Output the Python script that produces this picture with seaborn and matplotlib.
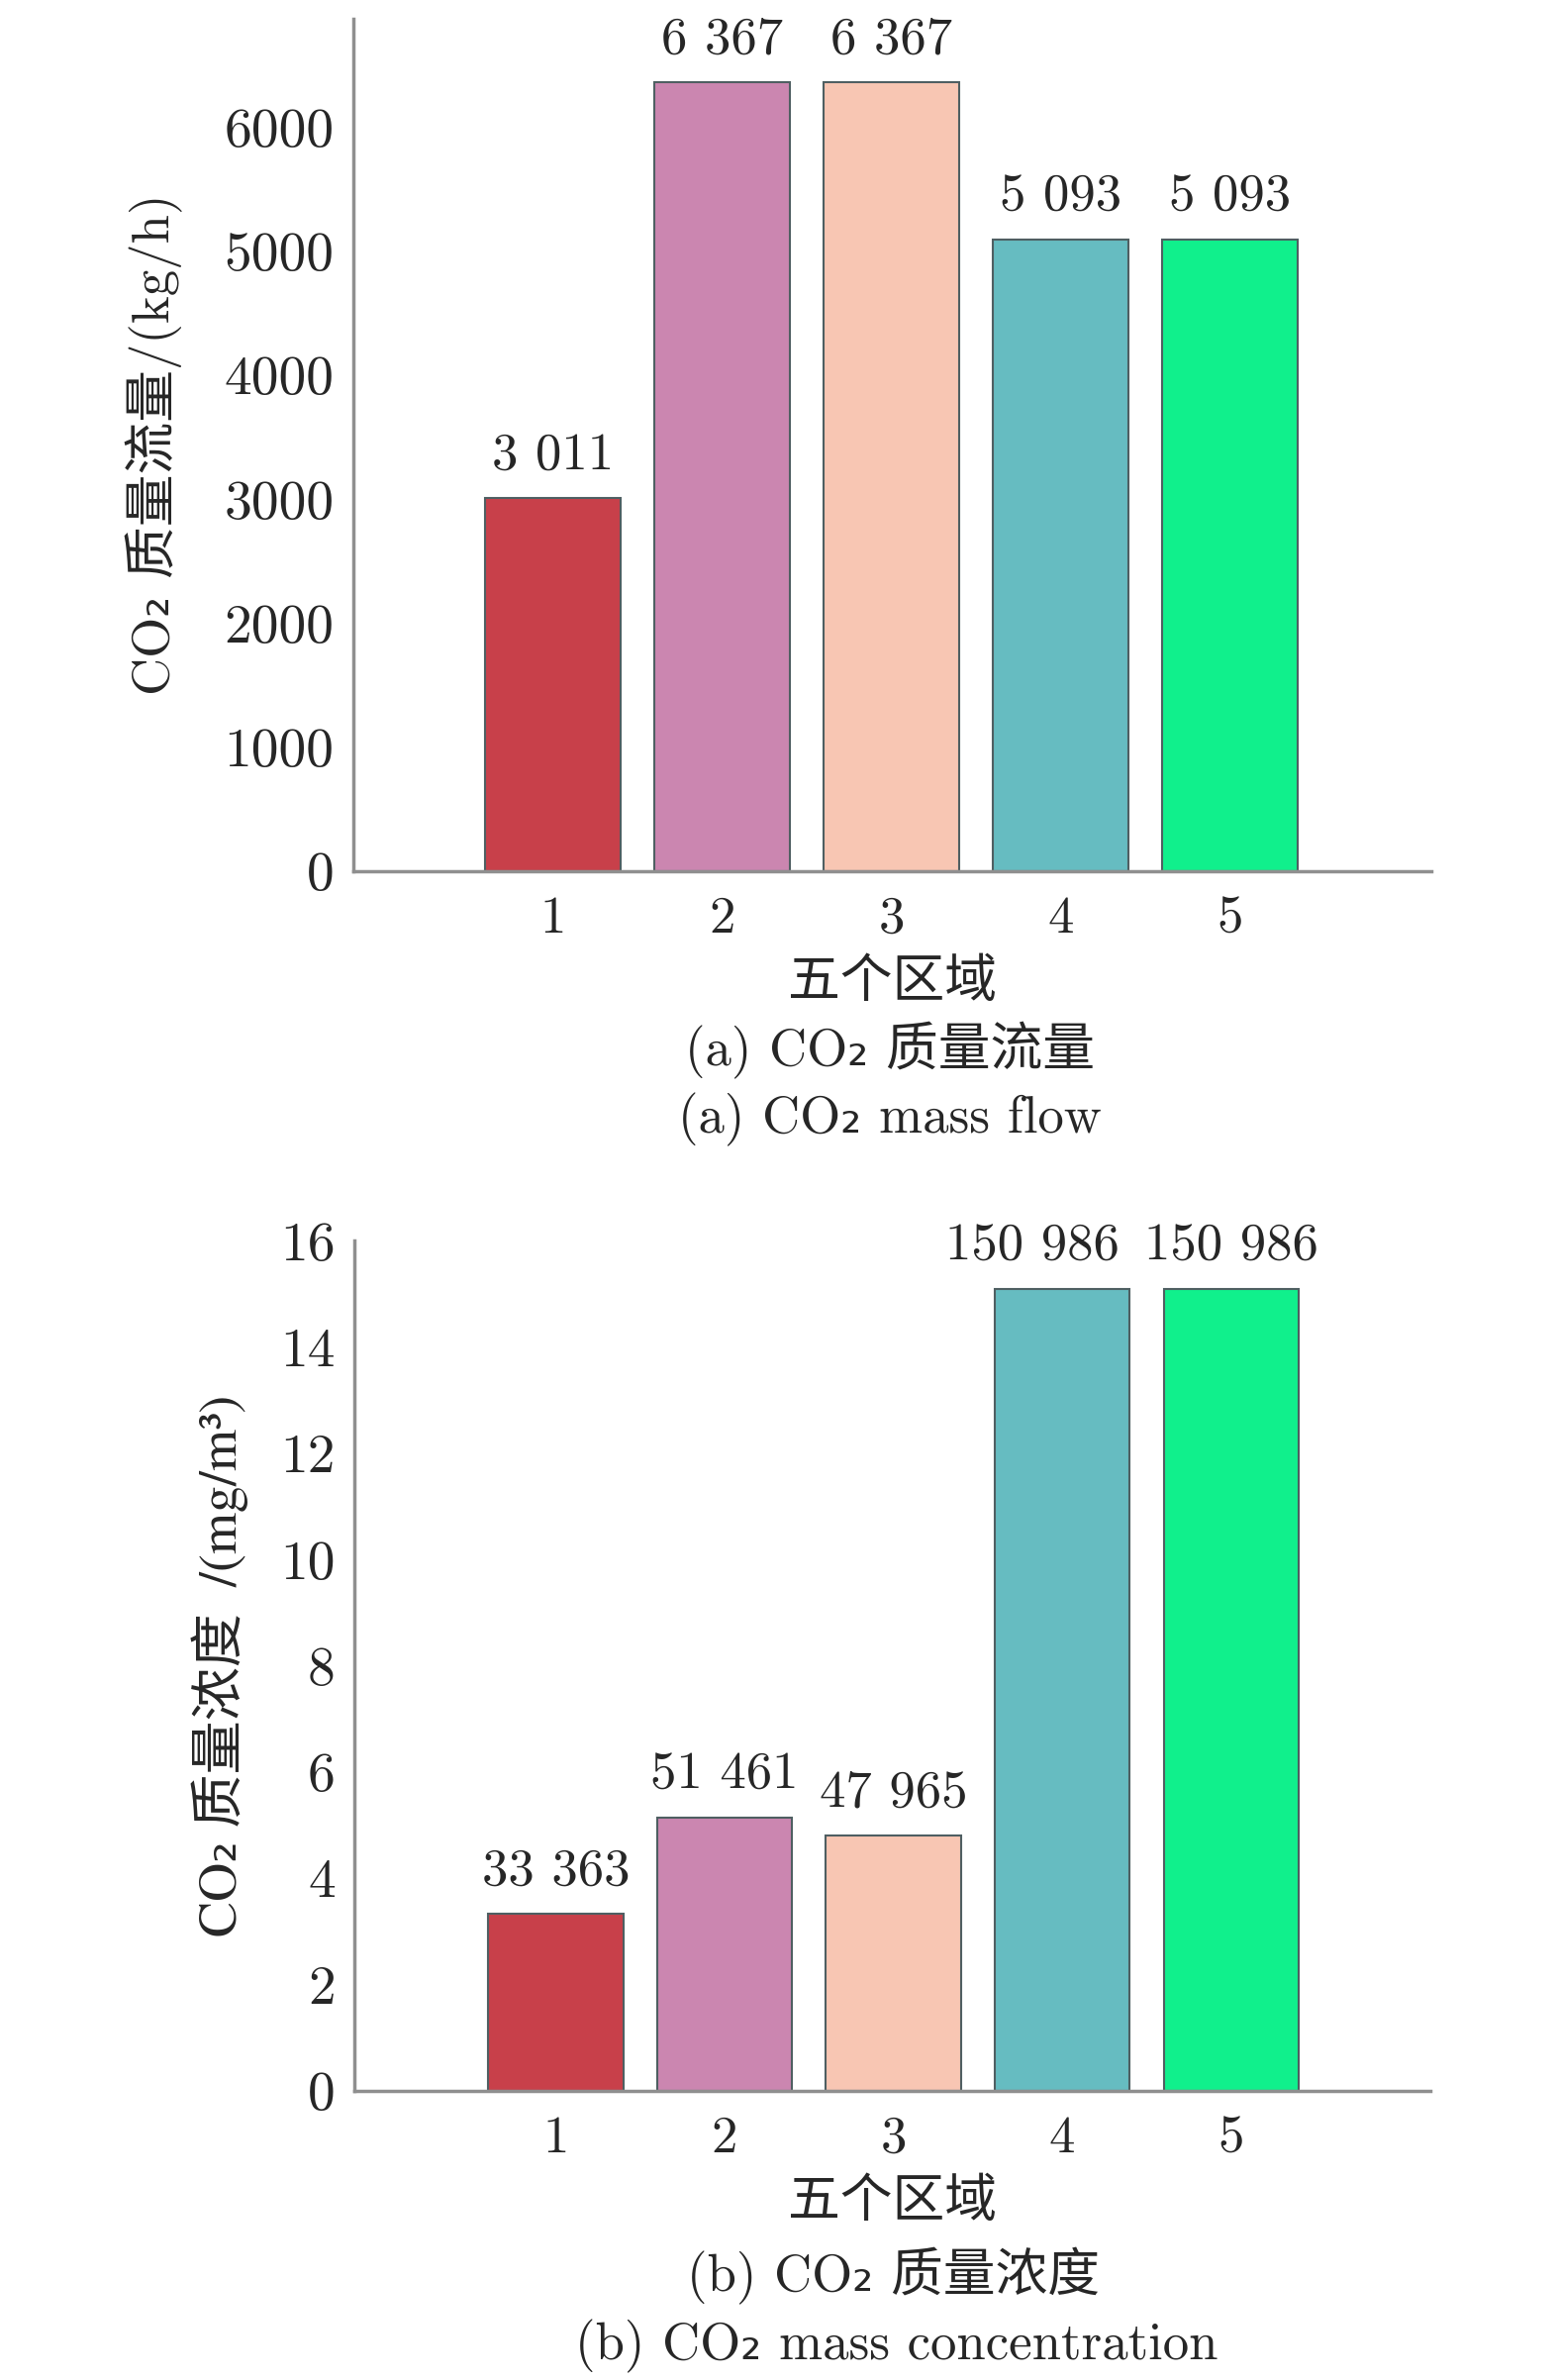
import matplotlib
matplotlib.use('Agg')
import matplotlib.pyplot as plt
import seaborn as sns
import pandas as pd

# five zones, values
zones = ['1', '2', '3', '4', '5']
flow = [3011, 6367, 6367, 5093, 5093]
flow_labels = ['3 011', '6 367', '6 367', '5 093', '5 093']
conc = [3.3363, 5.1461, 4.7965, 15.0986, 15.0986]
conc_labels = ['33 363', '51 461', '47 965', '150 986', '150 986']
flow_ticks = [0, 1000, 2000, 3000, 4000, 5000, 6000]
conc_ticks = [0, 2, 4, 6, 8, 10, 12, 14, 16]
colors = ['#C8404A', '#CB86B0', '#F8C6B3', '#66BCC1', '#10F08C']

sns.set_style('white')
plt.rcParams['font.family'] = ['cmr10', 'Noto Sans CJK SC', 'DejaVu Sans']
plt.rcParams['axes.unicode_minus'] = False
plt.rcParams['axes.formatter.use_mathtext'] = True

FS = 38
SPINE = '#8f8f8f'

fig = plt.figure(figsize=(15.75, 24.04), dpi=100)
ax1 = fig.add_axes([0.2266, 0.634, 0.6914, 0.3583])
ax2 = fig.add_axes([0.2275, 0.1216, 0.690, 0.357])


def draw(ax, vals, labels, ticks, ylim, xlim, ylabel, lab_x, lab_family=None):
    df = pd.DataFrame({'zone': zones, 'value': vals})
    sns.barplot(data=df, x='zone', y='value', hue='zone', palette=colors,
                legend=False, width=0.8, saturation=1, edgecolor='#4f5f62',
                linewidth=1.5, ax=ax)
    texts = []
    for c, lab in zip(ax.containers, labels):
        texts += ax.bar_label(c, labels=[lab], padding=14, fontsize=FS)
    ax.set_ylim(*ylim)
    ax.set_xlim(*xlim)
    ax.set_yticks(ticks)
    ax.set_yticklabels([str(t) for t in ticks])
    ax.tick_params(axis='y', direction='in', length=8, width=2, color=SPINE,
                   labelsize=40, pad=14)
    ax.tick_params(axis='x', length=0, labelsize=FS, pad=18)
    for s in ['top', 'right']:
        ax.spines[s].set_visible(False)
    for s in ['left', 'bottom']:
        ax.spines[s].set_color(SPINE)
        ax.spines[s].set_linewidth(2.5)
    ax.set_xlabel('五个区域', fontsize=FS, labelpad=12)
    if lab_family:
        ax.set_ylabel(ylabel, fontsize=FS + 1, family=lab_family)
    else:
        ax.set_ylabel(ylabel, fontsize=FS)
    ax.yaxis.set_label_coords(lab_x, 0.5)
    return texts


draw(ax1, flow, flow_labels, flow_ticks, (0, 6880), (-1.18, 5.19),
     'CO₂ 质量流量/(kg/h)', -0.158)
# cmr10 has no usable superscript three, so this label uses STIX serif
t2 = draw(ax2, conc, conc_labels, conc_ticks, (0, 16), (-1.19, 5.18),
          'CO₂ 质量浓度  /(mg/m³)', -0.099,
          lab_family=['STIXGeneral', 'Noto Sans CJK SC', 'DejaVu Sans'])
# the fourth label is nudged left in the original so it does not touch the fifth
t2[3].xyann = (-22, t2[3].xyann[1])

fig.text(0.571, 0.5585, '(a) CO₂ 质量流量', fontsize=FS, ha='center', va='center')
fig.text(0.571, 0.5297, '(a) CO₂ mass flow', fontsize=FS, ha='center', va='center')
fig.text(0.573, 0.0435, '(b) CO₂ 质量浓度', fontsize=FS, ha='center', va='center')
fig.text(0.575, 0.0141, '(b) CO₂ mass concentration', fontsize=FS, ha='center', va='center')

plt.savefig('out.png', dpi=100)
